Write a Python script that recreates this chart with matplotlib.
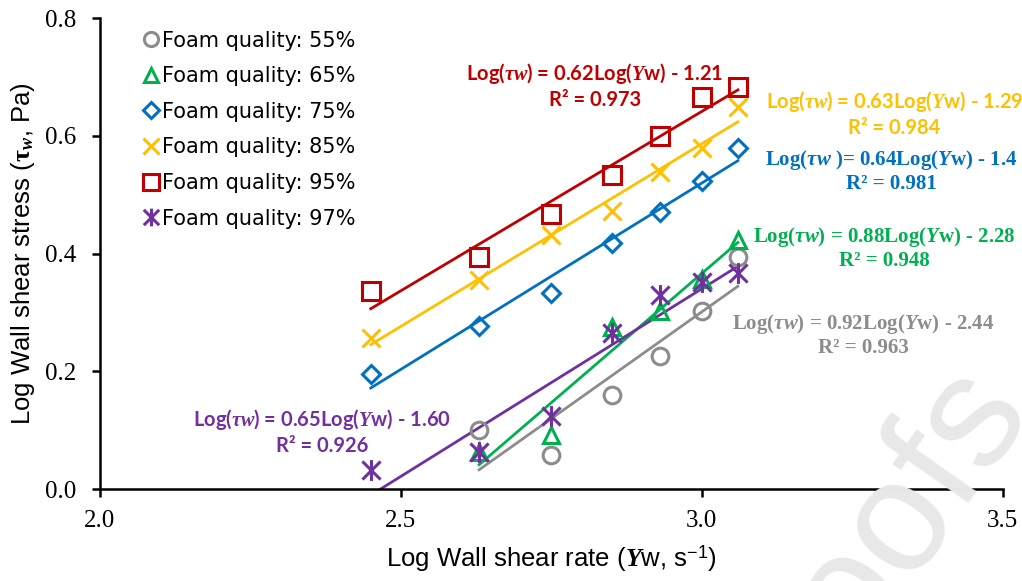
import numpy as np
import matplotlib.pyplot as plt
from matplotlib.path import Path

plt.rcParams['mathtext.fontset'] = 'custom'
plt.rcParams['mathtext.rm'] = 'Liberation Sans'
plt.rcParams['mathtext.it'] = 'Liberation Serif:italic:bold'
plt.rcParams['mathtext.bf'] = 'Liberation Serif:bold'
plt.rcParams['mathtext.sf'] = 'Liberation Serif:italic:bold'

# log wall shear rate for each run
rate_all = [2.45, 2.63, 2.75, 2.85, 2.93, 3.00, 3.06]
rate_short = [2.63, 2.75, 2.85, 2.93, 3.00, 3.06]

# log wall shear stress
q55 = [0.100, 0.058, 0.160, 0.226, 0.302, 0.394]
q65 = [0.063, 0.092, 0.275, 0.302, 0.357, 0.423]
q75 = [0.195, 0.277, 0.333, 0.418, 0.471, 0.523, 0.579]
q85 = [0.256, 0.355, 0.431, 0.472, 0.538, 0.579, 0.649]
q95 = [0.336, 0.394, 0.467, 0.533, 0.600, 0.666, 0.683]
q97 = [0.032, 0.063, 0.124, 0.265, 0.330, 0.352, 0.367]

labels = ['Foam quality: 55%', 'Foam quality: 65%', 'Foam quality: 75%',
          'Foam quality: 85%', 'Foam quality: 95%', 'Foam quality: 97%']
fit_text = [
    ('Log($\\mathit{\\tau w}$) = 0.92Log($\\mathsf{\\Upsilon}$w) - 2.44\nR² = 0.963', 'serif'),
    ('Log($\\mathit{\\tau w}$) = 0.88Log($\\mathsf{\\Upsilon}$w) - 2.28\nR² = 0.948', 'serif'),
    ('Log($\\mathit{\\tau w}$ )= 0.64Log($\\mathsf{\\Upsilon}$w) - 1.4\nR² = 0.981', 'serif'),
    ('Log($\\mathit{\\tau w}$) = 0.63Log($\\mathsf{\\Upsilon}$w) - 1.29\nR² = 0.984', 'sans'),
    ('Log($\\mathit{\\tau w}$) = 0.62Log($\\mathsf{\\Upsilon}$w) - 1.21\nR² = 0.973', 'sans'),
    ('Log($\\mathit{\\tau w}$) = 0.65Log($\\mathsf{\\Upsilon}$w) - 1.60\nR² = 0.926', 'sans'),
]
text_pos = [(3.268, 0.262), (3.303, 0.410), (3.315, 0.540),
            (3.320, 0.638), (2.822, 0.686), (2.369, 0.098)]

# asterisk: X with a vertical stroke
star = Path([(-1, -1), (1, 1), (-1, 1), (1, -1), (0, -1.15), (0, 1.15)],
            [Path.MOVETO, Path.LINETO] * 3)

series = [
    (rate_short, q55, '#8c8c8c', 'o', 12),
    (rate_short, q65, '#00b050', '^', 12),
    (rate_all, q75, '#0070c0', 'D', 9),
    (rate_all, q85, '#ffc000', 'x', 13),
    (rate_all, q95, '#c00000', 's', 13),
    (rate_all, q97, '#7030a0', star, 15),
]

fig = plt.figure(figsize=(10.22, 5.81), dpi=100)
ax = fig.add_axes([0.0978, 0.1583, 0.8833, 0.8107])

# faint page watermark
fig.text(1.005, 0.31, 'Pre-proofs', rotation=55, rotation_mode='anchor',
         ha='right', va='baseline', fontsize=115, color='#e8e8e8',
         family='Liberation Sans', zorder=0)

for i, (x, y, c, m, ms) in enumerate(series):
    ax.plot(x, y, ls='none', marker=m, ms=ms, mfc='none', mec=c, mew=2.2,
            label=labels[i], zorder=3)
    k, b = np.polyfit(x, y, 1)
    xx = np.array([x[0], x[-1]])
    ax.plot(xx, k * xx + b, color=c, lw=2, zorder=2)
    txt, kind = fit_text[i]
    if kind == 'serif':
        ax.text(*text_pos[i], txt, color=c, fontsize=15, fontweight='bold',
                family='Liberation Serif', ha='center', va='center',
                multialignment='center', linespacing=1.15)
    else:
        ax.text(*text_pos[i], txt, color=c, fontsize=14.5, fontweight='bold',
                family='Lato', ha='center', va='center',
                multialignment='center', linespacing=1.25)

ax.set_xlim(2.0, 3.5)
ax.set_ylim(0.0, 0.8)
ax.set_xticks([2.0, 2.5, 3.0, 3.5])
ax.set_yticks([0.0, 0.2, 0.4, 0.6, 0.8])
ax.set_xticklabels(['2.0', '2.5', '3.0', '3.5'])
ax.set_yticklabels(['0.0', '0.2', '0.4', '0.6', '0.8'])
for t in ax.get_xticklabels() + ax.get_yticklabels():
    t.set_family('Liberation Serif')
ax.tick_params(direction='out', length=6, width=1.8, labelsize=18)
ax.tick_params(axis='y', pad=11)
ax.tick_params(axis='x', pad=9)
ax.spines['top'].set_visible(False)
ax.spines['right'].set_visible(False)
ax.spines['left'].set_linewidth(1.8)
ax.spines['bottom'].set_linewidth(1.8)
ax.patch.set_alpha(0)

ax.set_xlabel('Log Wall shear rate ($\\mathsf{\\Upsilon}$w, s$^{\\mathrm{-1}}$)',
              family='Liberation Sans', fontsize=18.5, labelpad=8)
ax.set_ylabel('Log Wall shear stress ($\\mathbf{\\tau}_{\\mathit{w}}$, Pa)',
              family='Liberation Sans', fontsize=18.5, labelpad=6)

ax.legend(loc='upper left', bbox_to_anchor=(0.035, 1.0), frameon=False,
          fontsize=15, handlelength=0.7, handletextpad=0.15,
          labelspacing=0.75, markerscale=0.85, borderaxespad=0.2)

fig.savefig('out.png', dpi=100)
